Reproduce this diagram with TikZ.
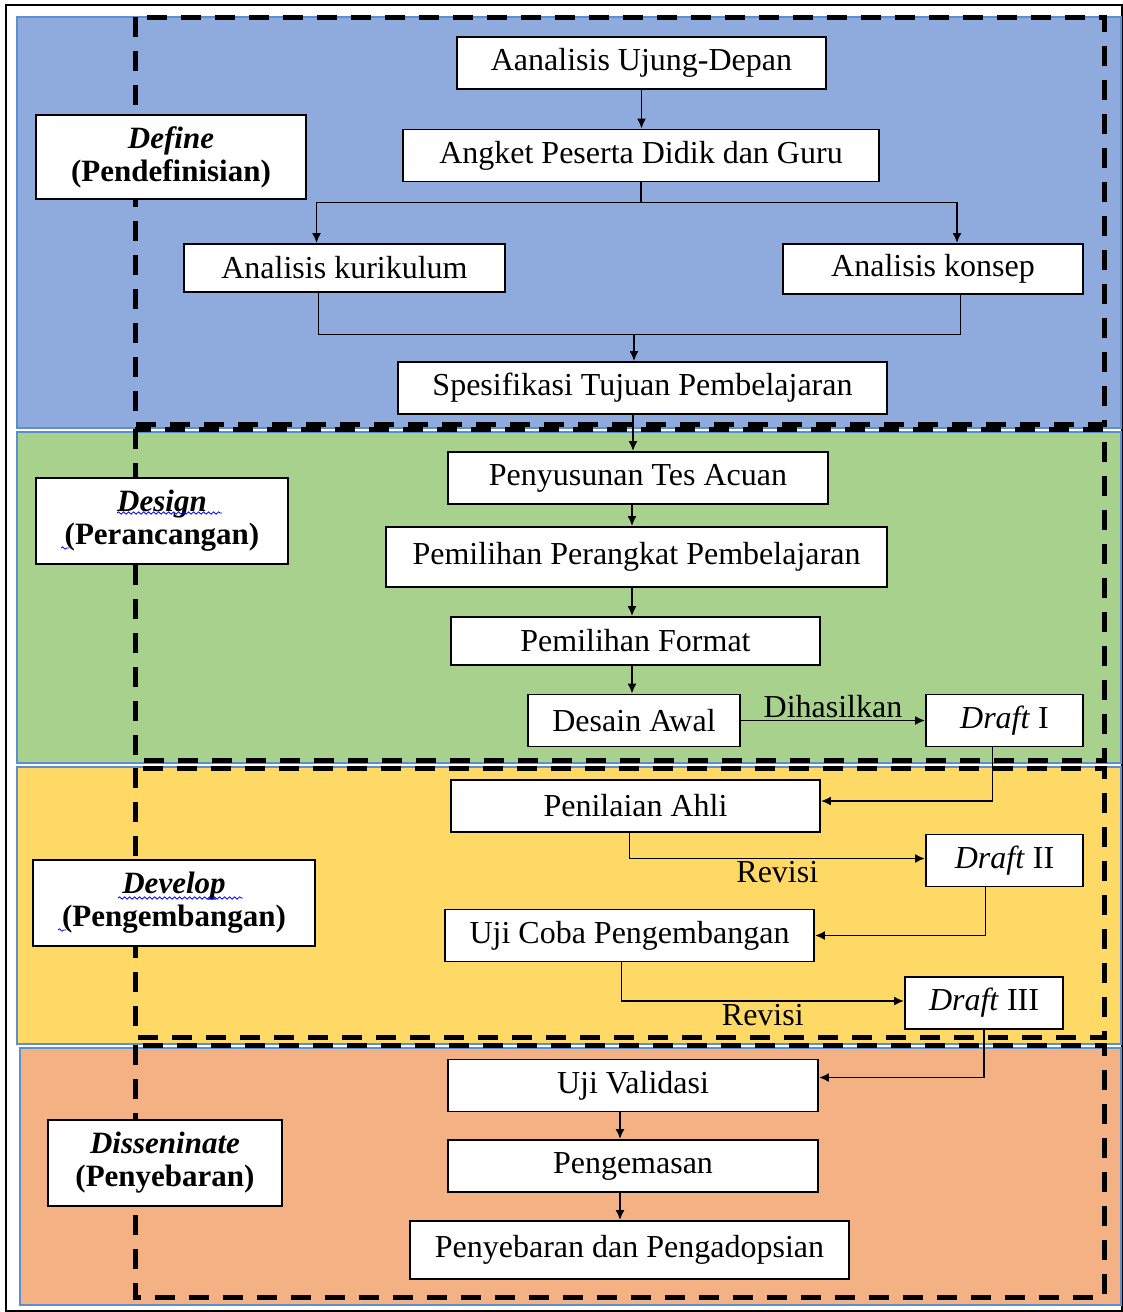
\documentclass[tikz,border=0pt]{standalone}
\usepackage{fontspec}
\setmainfont{Liberation Serif}
\usetikzlibrary{positioning,calc,arrows.meta,decorations.pathmorphing}
\definecolor{defblue}{HTML}{8FAADC}
\definecolor{dsggreen}{HTML}{A9D18E}
\definecolor{devyellow}{HTML}{FFD966}
\definecolor{disorange}{HTML}{F4B183}
\definecolor{bandline}{HTML}{5B8FD0}
\tikzset{
  box/.style={draw, fill=white, line width=0.9pt, minimum height=26pt, inner sep=2pt,
    font=\fontsize{16}{18}\selectfont},
  phase/.style={box, align=center, font=\fontsize{15.5}{16.5}\selectfont\bfseries},
  band/.style={draw=bandline, line width=0.6pt},
  frame/.style={line width=2.5pt, dash pattern=on 10pt off 7pt},
  flow/.style={-{Latex[length=5pt,width=4.5pt]}, line width=0.9pt},
  lbl/.style={font=\fontsize{16}{18}\selectfont, inner sep=1pt},
  spell/.style={blue, line width=0.4pt, decorate, decoration={snake, amplitude=0.6pt, segment length=2.5pt}}
}

\begin{document}
\begin{tikzpicture}[x=0.5pt,y=-0.5pt]
\useasboundingbox (0,0) rectangle (1123,1312);
% bands
\draw[line width=0.6pt] (6,5) rectangle (1122,1311);
\filldraw[band, fill=defblue] (17,17) rectangle (1121,428);
\filldraw[band, fill=dsggreen] (17,432) rectangle (1121,763);
\filldraw[band, fill=devyellow] (17,767) rectangle (1121,1044);
\filldraw[band, fill=disorange] (20,1048) rectangle (1121,1305);
% dashed frames
\draw[frame] (135,17) rectangle (1104,424);
\draw[frame] (135,429) rectangle (1104,760);
\draw[frame] (135,768) rectangle (1104,1037);
\draw[frame] (135,1045) rectangle (1104,1297);

% phases
\node[phase, minimum width=135pt, minimum height=42pt] (def) at (171,157) {\textit{Define}\\(Pendefinisian)};
\node[phase, minimum width=126pt, minimum height=43pt] (dsg) at (162,521) {\textit{Design}\\(Perancangan)};
\node[phase, minimum width=141pt, minimum height=43pt] (dev) at (174,903) {\textit{Develop}\\(Pengembangan)};
\node[phase, minimum width=117pt, minimum height=43pt] (dis) at (165,1163) {\textit{Disseninate}\\(Penyebaran)};
\draw[spell] ($(dsg.center)+(-45,-8)$) -- ($(dsg.center)+(60,-8)$);
\draw[spell] ($(dsg.center)+(-101,27)$) -- ++(8,0);
\draw[spell] ($(dev.center)+(-56,-5)$) -- ($(dev.center)+(69,-5)$);
\draw[spell] ($(dev.center)+(-116,27)$) -- ++(8,0);

% define
\node[box, minimum width=184.5pt] (aud) at (641.5,63) {Aanalisis Ujung-Depan};
\node[box, minimum width=238pt] (apd) at (641,155.5) {Angket Peserta Didik dan Guru};
\node[box, minimum width=160.5pt, minimum height=24pt] (akur) at (344.5,268) {Analisis kurikulum};
\node[box, minimum width=150pt, minimum height=25pt] (akon) at (933,269) {Analisis konsep};
\node[box, minimum width=244.5pt] (stp) at (642.5,388) {Spesifikasi Tujuan Pembelajaran};
% design
\node[box, minimum width=190pt] (pta) at (638,478) {Penyusunan Tes Acuan};
\node[box, minimum width=250.5pt, minimum height=30pt] (ppp) at (636.5,557) {Pemilihan Perangkat Pembelajaran};
\node[box, minimum width=184.5pt, minimum height=24pt] (pf) at (635.5,641) {Pemilihan Format};
\node[box, minimum width=106pt] (da) at (634,720.5) {Desain Awal};
\node[box, minimum width=78.5pt] (d1) at (1004.5,720.5) {\textit{Draft} I};
% develop
\node[box, minimum width=184.5pt] (pa) at (635.5,806) {Penilaian Ahli};
\node[box, minimum width=78.5pt] (d2) at (1004.5,860.5) {\textit{Draft} II};
\node[box, minimum width=184.5pt] (ucp) at (629.5,935.5) {Uji Coba Pengembangan};
\node[box, minimum width=79pt] (d3) at (984,1003) {\textit{Draft} III};
% disseminate
\node[box, minimum width=185pt] (uv) at (633,1085.5) {Uji Validasi};
\node[box, minimum width=185pt] (pg) at (633,1166) {Pengemasan};
\node[box, minimum width=219.5pt, minimum height=29pt] (pdp) at (629.5,1250) {Penyebaran dan Pengadopsian};

\coordinate (fork) at ($(apd.south)+(0,20)$);
\coordinate (join) at (634,334);
\coordinate (spineA) at (633,0);
\coordinate (spineB) at (632,0);
\coordinate (spineC) at (620,0);
\draw[flow] (aud.south) -- (aud.south |- apd.north);
\draw[flow] (apd.south) -- (fork) -| ($(akur.north)+(-28,0)$);
\draw[flow] (fork) -| ($(akon.north)+(24,0)$);
\draw ($(akur.south)+(-26,0)$) |- (join);
\draw ($(akon.south)+(27,0)$) |- (join);
\draw[flow] (join) -- (join |- stp.north);
\draw[flow] (stp.south -| spineA) -- (pta.north -| spineA);
\draw[flow] (pta.south -| spineB) -- (ppp.north -| spineB);
\draw[flow] (ppp.south -| spineB) -- (pf.north -| spineB);
\draw[flow] (pf.south -| spineB) -- (da.north -| spineB);
\draw[flow] (da) -- node[lbl, above] {Dihasilkan} (d1);
\draw[flow] ($(d1.south)+(-12,0)$) |- ($(pa.east)+(0,-5)$);
\draw[flow] ($(pa.south)+(-6,0)$) |- node[lbl, below, pos=0.75] {Revisi} ($(d2.west)+(0,-2)$);
\draw[flow] ($(d2.south)+(-19,0)$) |- (ucp.east);
\draw[flow] ($(ucp.south)+(-8,0)$) |- node[lbl, below, pos=0.75] {Revisi} ($(d3.west)+(0,-2)$);
\draw[flow] (d3.south) |- ($(uv.east)+(0,-8)$);
\draw[flow] (uv.south -| spineC) -- (pg.north -| spineC);
\draw[flow] (pg.south -| spineC) -- (pdp.north -| spineC);
\end{tikzpicture}
\end{document}
